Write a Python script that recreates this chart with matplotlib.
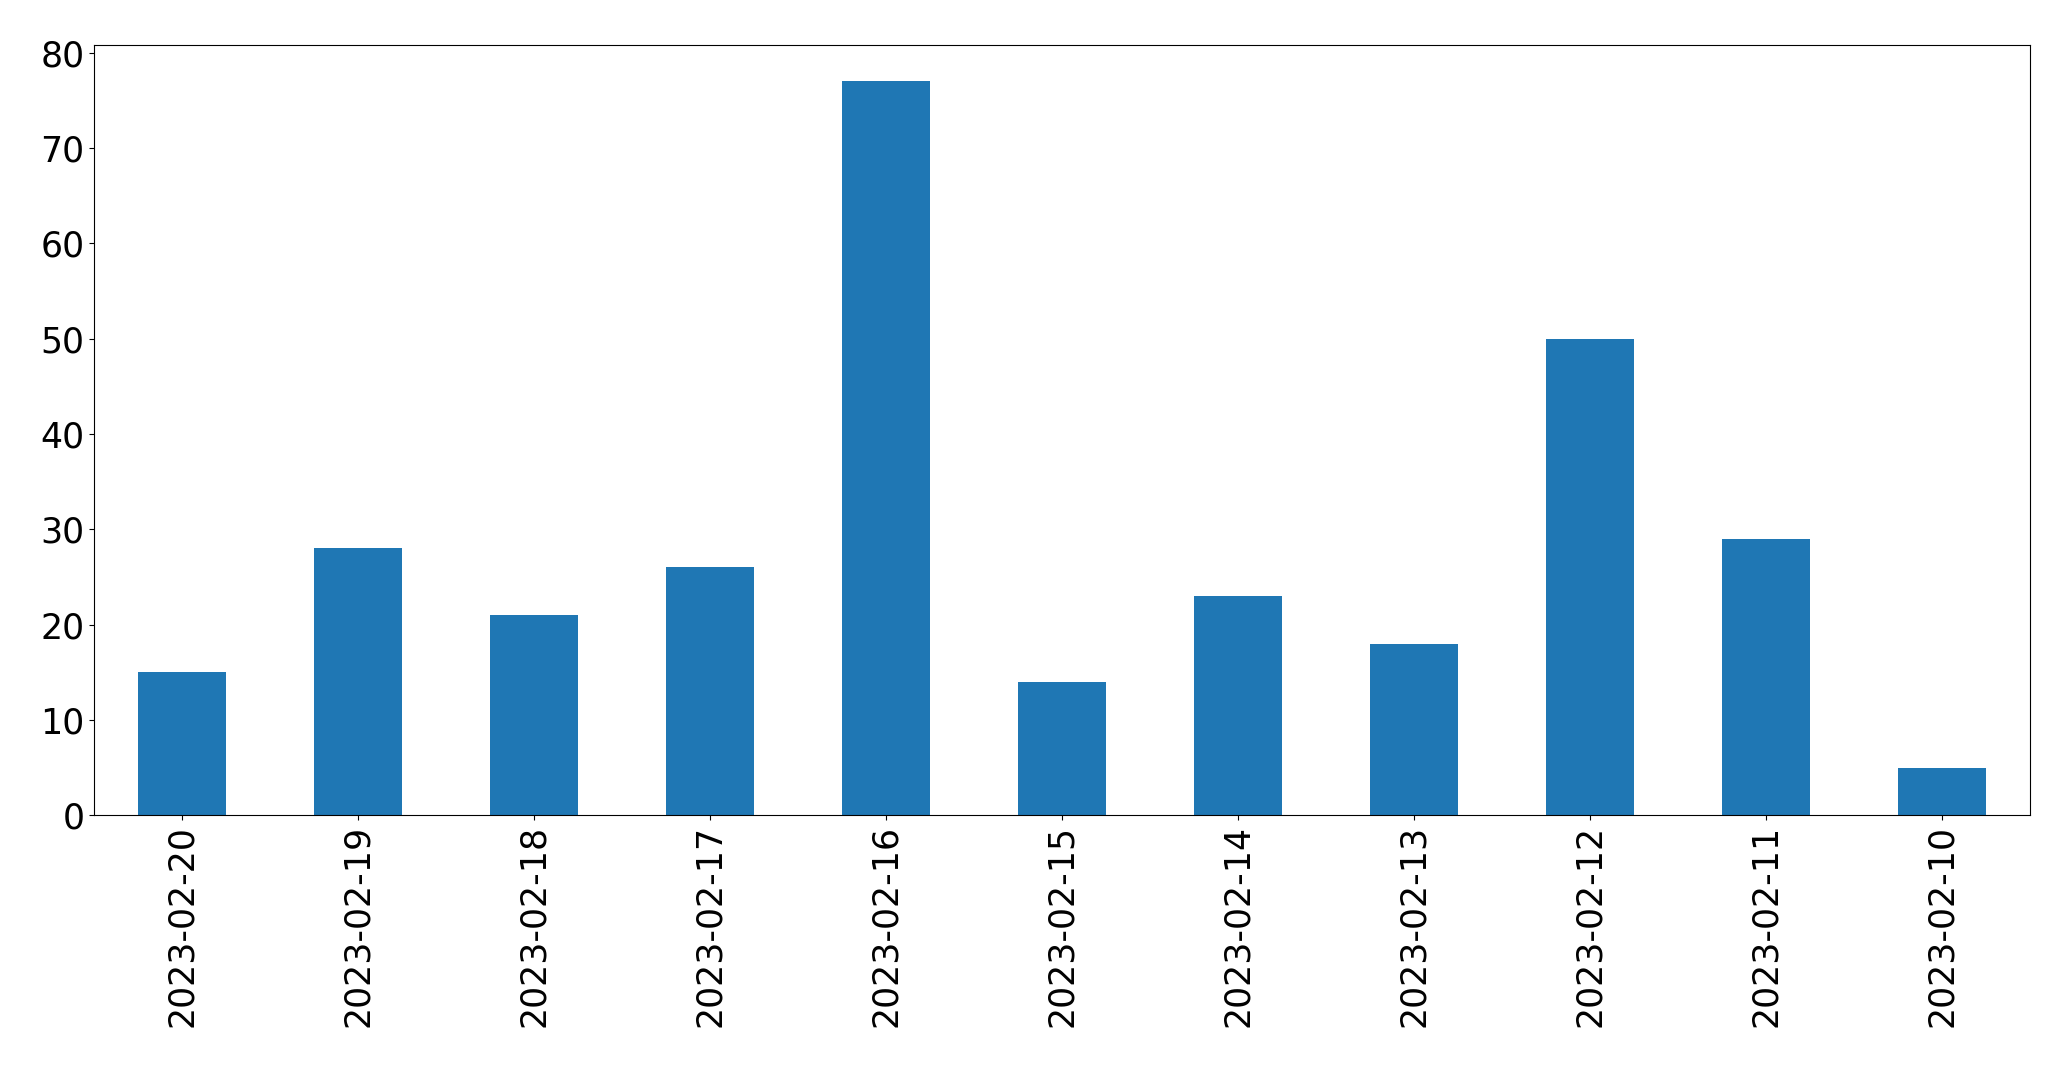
import numpy as np
import matplotlib
matplotlib.use('Agg')
import matplotlib.pyplot as plt

dates = ['2023-02-20', '2023-02-19', '2023-02-18', '2023-02-17', '2023-02-16',
         '2023-02-15', '2023-02-14', '2023-02-13', '2023-02-12', '2023-02-11',
         '2023-02-10']
counts = [15, 28, 21, 26, 77, 14, 23, 18, 50, 29, 5]

fig = plt.figure(figsize=(20.71, 10.67), dpi=100)
ax = fig.add_axes([0.0454, 0.236, 0.9346, 0.722])
x = np.arange(len(dates))
ax.bar(x, counts, width=0.5, color='#1f77b4')
ax.set_xlim(-0.5, len(dates) - 0.5)
ax.set_xticks(x)
ax.set_xticklabels(dates, rotation=90)
ax.tick_params(labelsize=25)

fig.savefig('out.png', dpi=100)
